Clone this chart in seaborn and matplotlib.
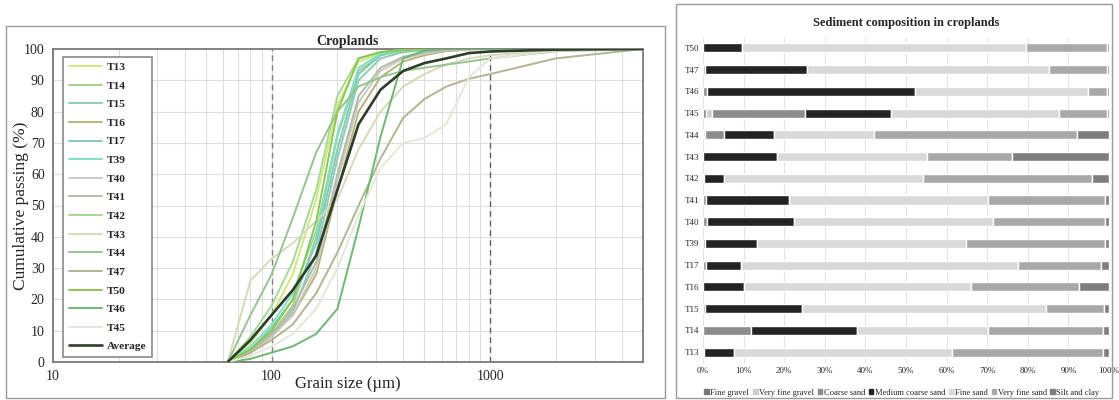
#Grain size curves and sediment composition for croplands

#Import modules
import matplotlib
matplotlib.use('Agg')
import matplotlib.pyplot as plt
from matplotlib.patches import Rectangle, Patch
import numpy as np
import pandas as pd
import seaborn as sb

#Grain size curves (sieve size in um, cumulative passing in %)
sizes = [63, 80, 100, 125, 160, 200, 250, 315, 400, 500, 630, 800, 1000, 2000, 5000]
T13 = [0, 6, 15, 28, 52, 82, 96, 98.5, 99.5, 100, 100, 100, 100, 100, 100]
T14 = [0, 4, 9, 18, 40, 72, 93, 98, 99.5, 100, 100, 100, 100, 100, 100]
T15 = [0, 3, 8, 16, 35, 65, 90, 97, 99, 99.6, 100, 100, 100, 100, 100]
T16 = [0, 3, 9, 15, 28, 55, 80, 91, 96, 98, 99.3, 99.8, 100, 100, 100]
T17 = [0, 4, 11, 20, 38, 68, 92, 98, 99.5, 100, 100, 100, 100, 100, 100]
T39 = [0, 5, 12, 22, 42, 73, 94, 98.5, 99.6, 100, 100, 100, 100, 100, 100]
T40 = [0, 3, 8, 15, 30, 58, 83, 93, 97, 98.5, 99.5, 100, 100, 100, 100]
T41 = [0, 4, 9, 17, 32, 60, 85, 94, 97.5, 99, 99.7, 100, 100, 100, 100]
T42 = [0, 8, 18, 32, 55, 85, 97, 99, 99.8, 100, 100, 100, 100, 100, 100]
T43 = [0, 26, 33, 38, 45, 52, 68, 80, 88, 92, 95, 97, 98, 99.5, 100]
T44 = [0, 15, 28, 46, 67, 80, 88, 91, 93, 94, 95, 96, 97, 99.3, 100]
T47 = [0, 3, 7, 12, 22, 35, 50, 65, 78, 84, 88, 90.5, 92, 97, 100]
T50 = [0, 4, 10, 20, 45, 80, 97, 99, 99.7, 100, 100, 100, 100, 100, 100]
T46 = [0, 1, 3, 5, 9, 17, 43, 72, 97, 99.5, 100, 100, 100, 100, 100]
T45 = [0, 2, 5, 9, 17, 30, 47, 62, 70, 71.5, 76, 91, 97, 99.5, 100]
Average = [0, 7, 15, 23, 34, 55, 76, 87, 93, 95.5, 97, 98.7, 99.2, 99.8, 100]

curve_names = ['T13', 'T14', 'T15', 'T16', 'T17', 'T39', 'T40', 'T41', 'T42',
               'T43', 'T44', 'T47', 'T50', 'T46', 'T45', 'Average']
curve_values = [T13, T14, T15, T16, T17, T39, T40, T41, T42,
                T43, T44, T47, T50, T46, T45, Average]
curve_colors = ['#d2e67e', '#a9cf8c', '#8ccfae', '#b7b57c', '#84c9c1', '#7fe3c2',
                '#c9c9c6', '#b2bba8', '#a6d996', '#d5dab8', '#98c292', '#b4b393',
                '#8cc84f', '#6fb874', '#e2e9d8', '#2e3d2a']

#Sediment composition (%)
samples = ['T13', 'T14', 'T15', 'T16', 'T17', 'T39', 'T40', 'T41', 'T42',
           'T43', 'T44', 'T45', 'T46', 'T47', 'T50']
fractions = ['Fine gravel', 'Very fine gravel', 'Coarse sand', 'Medium coarse sand',
             'Fine sand', 'Very fine sand', 'Silt and clay']
fine_gravel = [0, 0, 0, 0, 0, 0, 0, 0, 0, 0, 0, 0.7, 0, 0, 0]
very_fine_gravel = [0, 0, 0, 0, 0, 0, 0, 0, 0, 0, 0.4, 1.6, 0, 0, 0]
coarse_sand = [0.3, 11.8, 0.4, 0, 0.8, 0.4, 1.0, 0.8, 0.3, 0, 4.7, 22.8, 1.1, 0.4, 0]
medium_coarse_sand = [7.4, 26.2, 24.0, 10.1, 8.5, 12.9, 21.5, 20.4, 4.8, 18.3, 12.3, 21.2, 51.0, 25.1, 9.7]
fine_sand = [53.6, 32.2, 60.1, 55.8, 68.4, 51.5, 48.9, 49.1, 49.0, 36.8, 24.6, 41.3, 42.7, 59.6, 69.9]
very_fine_sand = [37.3, 28.2, 14.3, 26.8, 20.3, 34.3, 27.7, 28.8, 41.7, 21.1, 50.2, 11.9, 4.7, 14.4, 19.9]
silt_clay = [1.4, 1.6, 1.2, 7.3, 2.0, 0.9, 0.9, 0.9, 4.2, 23.8, 7.8, 0.5, 0.5, 0.5, 0.5]
fraction_colors = ['#757575', '#cdcdcd', '#8c8c8c', '#232323', '#d9d9d9', '#a8a8a8', '#7e7e7e']

sb.set_style('white')
plt.rcParams['font.family'] = ['Liberation Serif', 'DejaVu Serif']

fig = plt.figure(figsize=(11.19, 4), dpi=100)

#Outer frames
fig.patches.append(Rectangle((6 / 1119, 0.004), 659 / 1119, 1 - 26 / 400 - 0.004,
                             transform=fig.transFigure, fill=False, edgecolor='#9a9a9a', lw=1))
fig.patches.append(Rectangle((676 / 1119, 0.004), 436 / 1119, 1 - 4 / 400 - 0.004,
                             transform=fig.transFigure, fill=False, edgecolor='#9a9a9a', lw=1))

#Left panel: cumulative curves
ax1 = fig.add_axes([53 / 1119, 1 - 362 / 400, 590 / 1119, 313 / 400])
df = pd.DataFrame({'size': np.tile(sizes, len(curve_names)),
                   'passing': np.concatenate(curve_values),
                   'sample': np.repeat(curve_names, len(sizes))})
for name, color in zip(curve_names, curve_colors):
    sub = df[df['sample'] == name]
    sb.lineplot(data=sub, x='size', y='passing', ax=ax1, color=color,
                lw=1.9 if name == 'Average' else 1.4, label=name,
                zorder=5 if name == 'Average' else 3)
ax1.set_xscale('log')
ax1.set_xlim(10, 5000)
ax1.set_ylim(0, 100)
ax1.set_yticks(np.arange(0, 101, 10))
ax1.set_xticks([10, 100, 1000])
ax1.set_xticklabels(['10', '100', '1000'])
ax1.grid(True, which='major', color='#dddddd', lw=0.8)
ax1.grid(True, which='minor', axis='x', color='#dddddd', lw=0.8)
ax1.axvline(100, color='#808080', ls=(0, (4, 3)), lw=1, zorder=2)
ax1.axvline(1000, color='#606060', ls=(0, (4, 3)), lw=1, zorder=2)
for s in ax1.spines.values():
    s.set_color('#7a7a7a')
    s.set_linewidth(1.3)
ax1.tick_params(axis='both', labelsize=10, length=0, pad=6)
ax1.set_xlabel('Grain size (µm)', fontsize=12)
ax1.set_ylabel('Cumulative passing (%)', fontsize=12.5)
ax1.xaxis.set_label_coords(0.5, -0.045)
ax1.yaxis.set_label_coords(-0.04, 0.5)
ax1.set_title('Croplands', fontsize=10, fontweight='bold', pad=3)
leg = ax1.legend(loc='upper left', bbox_to_anchor=(0.008, 0.993), prop={'size': 8.2, 'weight': 'bold'},
                 handlelength=2.9, handletextpad=0.5, labelspacing=0.76, borderpad=0.45,
                 fancybox=False, edgecolor='#8a8a8a', framealpha=1)
leg.get_frame().set_linewidth(1.2)

#Right panel: stacked bars
ax2 = fig.add_axes([703 / 1119, 1 - 363 / 400, 406 / 1119, 326 / 400])
comp = pd.DataFrame({'sample': samples, 'Fine gravel': fine_gravel,
                     'Very fine gravel': very_fine_gravel, 'Coarse sand': coarse_sand,
                     'Medium coarse sand': medium_coarse_sand, 'Fine sand': fine_sand,
                     'Very fine sand': very_fine_sand, 'Silt and clay': silt_clay})
vals = comp[fractions].values
vals = vals / vals.sum(axis=1, keepdims=True) * 100
left = np.zeros(len(samples))
ypos = np.arange(len(samples))
for i, frac in enumerate(fractions):
    ax2.barh(ypos, vals[:, i], left=left, height=0.42, color=fraction_colors[i],
             label=frac, zorder=3)
    left += vals[:, i]
ax2.set_yticks(ypos)
ax2.set_yticklabels(samples)
ax2.set_ylim(-0.5, len(samples) - 0.5)
ax2.set_xlim(0, 100)
ax2.set_xticks(np.arange(0, 101, 10))
ax2.set_xticklabels([f'{v}%' for v in range(0, 101, 10)])
ax2.grid(True, axis='x', color='#e3e3e3', lw=0.8, zorder=0)
ax2.grid(False, axis='y')
for s in ax2.spines.values():
    s.set_visible(False)
ax2.tick_params(axis='both', labelsize=6.5, length=0, pad=3)
ax2.set_title('Sediment composition in croplands', fontsize=9, fontweight='bold', pad=8)
ax2.legend(handles=[Patch(color=c, label=f) for f, c in zip(fractions, fraction_colors)],
           loc='upper center', bbox_to_anchor=(0.49, -0.055), ncol=7, frameon=False,
           fontsize=6.1, handlelength=0.55, handleheight=0.55, handletextpad=0.15,
           columnspacing=0.45)

fig.savefig('out.png', dpi=100)
